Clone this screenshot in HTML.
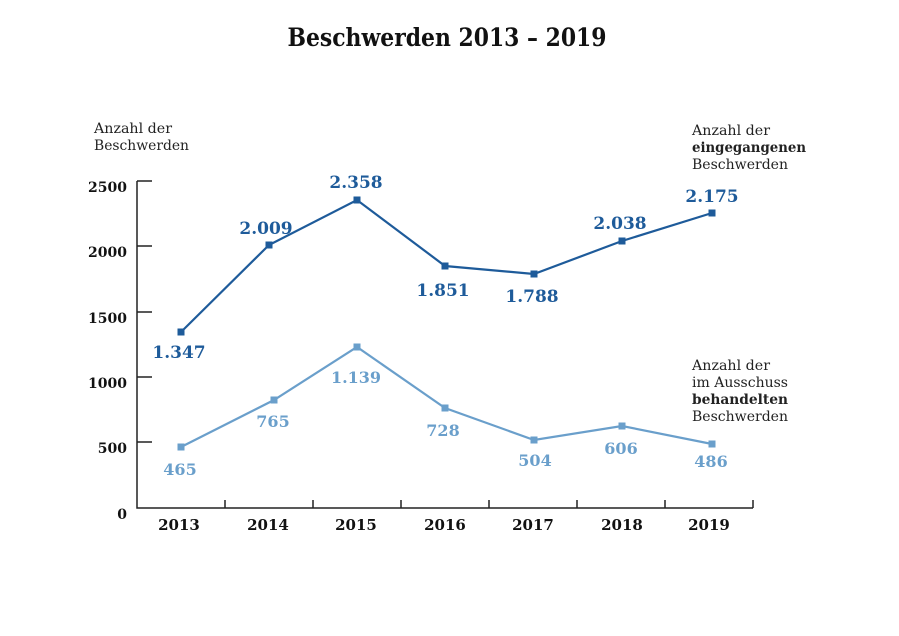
<!DOCTYPE html>
<html><head><meta charset="utf-8"><style>
html,body{margin:0;padding:0;background:#fff;}
svg{display:block;}
text{font-family:"DejaVu Serif","Liberation Serif",serif;}
</style></head><body>
<svg width="899" height="636" viewBox="0 0 899 636" xmlns="http://www.w3.org/2000/svg">
<text x="447" y="46" text-anchor="middle" font-size="25" font-weight="bold" fill="#111" textLength="319" lengthAdjust="spacingAndGlyphs">Beschwerden 2013 – 2019</text>
<g font-size="14" fill="#222">
<text x="94" y="133" textLength="78" lengthAdjust="spacingAndGlyphs">Anzahl der</text>
<text x="94" y="150" textLength="95" lengthAdjust="spacingAndGlyphs">Beschwerden</text>
<text x="692" y="135" textLength="78" lengthAdjust="spacingAndGlyphs">Anzahl der</text>
<text x="692" y="152" font-weight="bold" textLength="114" lengthAdjust="spacingAndGlyphs">eingegangenen</text>
<text x="692" y="169" textLength="96" lengthAdjust="spacingAndGlyphs">Beschwerden</text>
<text x="692" y="370" textLength="78" lengthAdjust="spacingAndGlyphs">Anzahl der</text>
<text x="692" y="387" textLength="96" lengthAdjust="spacingAndGlyphs">im Ausschuss</text>
<text x="692" y="404" font-weight="bold" textLength="96" lengthAdjust="spacingAndGlyphs">behandelten</text>
<text x="692" y="421" textLength="96" lengthAdjust="spacingAndGlyphs">Beschwerden</text>
</g>
<g stroke="#222" stroke-width="1.5" fill="none">
<path d="M137 181 V508 H753"/>
<path d="M137 181H152M137 246H152M137 312H152M137 377H152M137 442H152"/>
<path d="M225 508V500M313 508V500M401 508V500M489 508V500M577 508V500M665 508V500M753 508V500"/>
</g>
<g font-size="14" font-weight="bold" fill="#111" text-anchor="end">
<text x="127" y="192">2500</text><text x="127" y="257">2000</text><text x="127" y="323">1500</text>
<text x="127" y="388">1000</text><text x="127" y="453">500</text><text x="127" y="519">0</text>
</g>
<g font-size="15" font-weight="bold" fill="#111" text-anchor="middle">
<text x="179" y="530">2013</text><text x="268" y="530">2014</text><text x="356" y="530">2015</text>
<text x="445" y="530">2016</text><text x="533" y="530">2017</text><text x="622" y="530">2018</text><text x="709" y="530">2019</text>
</g>
<polyline points="181,332 269,245 357,200 445,266 534,274 622,241 712,213" fill="none" stroke="#1e5b9a" stroke-width="2.2"/>
<g fill="#1e5b9a">
<rect x="177.5" y="328.5" width="7" height="7"/><rect x="265.5" y="241.5" width="7" height="7"/><rect x="353.5" y="196.5" width="7" height="7"/>
<rect x="441.5" y="262.5" width="7" height="7"/><rect x="530.5" y="270.5" width="7" height="7"/><rect x="618.5" y="237.5" width="7" height="7"/><rect x="708.5" y="209.5" width="7" height="7"/>
</g>
<g font-size="17" font-weight="bold" fill="#1e5b9a" text-anchor="middle">
<text x="179" y="358">1.347</text><text x="266" y="234">2.009</text><text x="356" y="188">2.358</text>
<text x="443" y="296">1.851</text><text x="532" y="302">1.788</text><text x="620" y="229">2.038</text><text x="712" y="202">2.175</text>
</g>
<polyline points="181,447 274,400 357,347 445,408 534,440 622,426 712,444" fill="none" stroke="#6a9fcb" stroke-width="2.2"/>
<g fill="#6a9fcb">
<rect x="177.5" y="443.5" width="7" height="7"/><rect x="270.5" y="396.5" width="7" height="7"/><rect x="353.5" y="343.5" width="7" height="7"/>
<rect x="441.5" y="404.5" width="7" height="7"/><rect x="530.5" y="436.5" width="7" height="7"/><rect x="618.5" y="422.5" width="7" height="7"/><rect x="708.5" y="440.5" width="7" height="7"/>
</g>
<g font-size="16" font-weight="bold" fill="#6a9fcb" text-anchor="middle">
<text x="180" y="475">465</text><text x="273" y="427">765</text><text x="356" y="383">1.139</text>
<text x="443" y="436">728</text><text x="535" y="466">504</text><text x="621" y="454">606</text><text x="711" y="467">486</text>
</g>
</svg>
</body></html>
